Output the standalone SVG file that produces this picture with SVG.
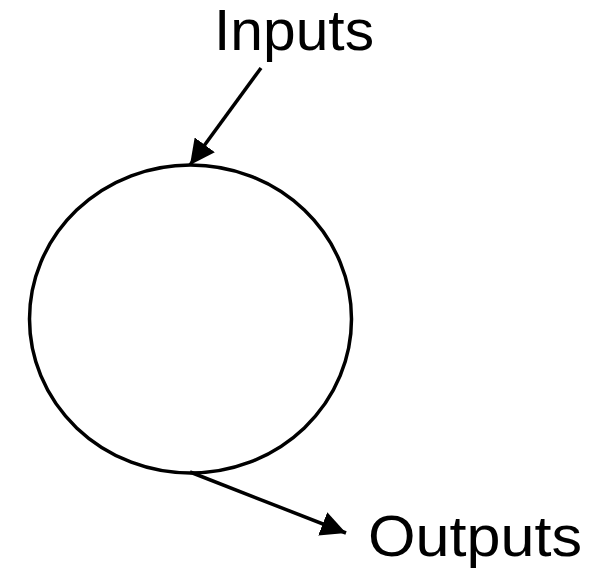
<svg xmlns="http://www.w3.org/2000/svg" width="613" height="568" viewBox="0 0 613 568">
  <defs>
    <marker id="arrow" markerUnits="userSpaceOnUse" markerWidth="26" markerHeight="25" refX="25" refY="12.5" orient="auto">
      <path d="M0,0 L25,12.5 L0,25 Z" fill="#000"/>
    </marker>
    <style>
      .lbl { font-family: "Liberation Sans", Arial, sans-serif; font-size: 57px; fill: #000; }
      .edge { stroke: #000; stroke-width: 3.5; fill: none; marker-end: url(#arrow); }
    </style>
  </defs>
  <rect width="613" height="568" fill="#fff"/>
  <g id="node-process">
    <ellipse cx="190.5" cy="319" rx="161" ry="154" fill="#fff" stroke="#000" stroke-width="3.5"/>
  </g>
  <g id="label-inputs">
    <text class="lbl" x="214" y="50" font-size="55" textLength="160" lengthAdjust="spacingAndGlyphs">Inputs</text>
  </g>
  <g id="label-outputs">
    <text class="lbl" x="368" y="556" textLength="214" lengthAdjust="spacingAndGlyphs">Outputs</text>
  </g>
  <g id="connectors">
    <line class="edge" x1="261" y1="68" x2="190" y2="165"/>
    <line class="edge" x1="190" y1="472" x2="346" y2="533"/>
  </g>
</svg>
